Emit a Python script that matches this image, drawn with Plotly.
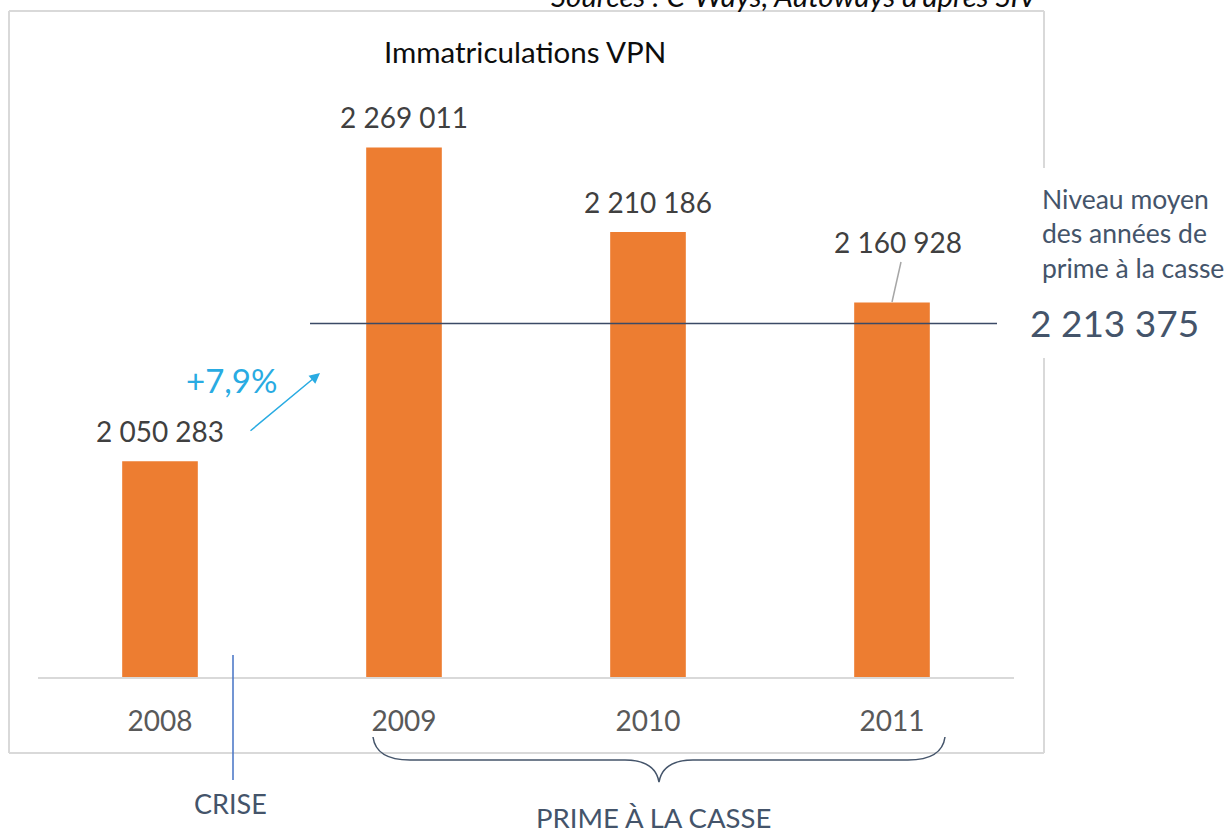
import plotly.graph_objects as go

# ---- data ----
years = ["2008", "2009", "2010", "2011"]
registrations = [2050283, 2269011, 2210186, 2160928]
mean_label = "2 213 375"
mean_line_level = 2146400  # level where the reference draws its average line
growth_label = "+7,9%"
title_text = "Immatriculations VPN"
source_text = "Sources : C-Ways, Autoways d'après SIV"
crisis_label = "CRISE"
prime_label = "PRIME À LA CASSE"
mean_caption = "Niveau moyen<br>des années de<br>prime à la casse"

# ---- layout geometry (pixels) ----
W, H = 1231, 834
L, R, T, B = 38, 217, 103, 157
PW, PH = W - L - R, H - T - B

def px(x):
    return (x - L) / PW

def py(y):
    return (H - B - y) / PH

FONT = "Lato"
ORANGE = "#ED7D31"
NAVY = "#44546A"
BLUE = "#29ABE2"

fig = go.Figure()
fig.add_trace(go.Bar(x=years, y=registrations, marker=dict(color=ORANGE, line=dict(width=0)),
                     hoverinfo="skip"))

label_shift = [11, 11, 11, 42]
label_xshift = [0, 0, 0, 6]
annotations = []
for i, (v, s, xs) in enumerate(zip(registrations, label_shift, label_xshift)):
    # category index i on the x axis
    annotations.append(dict(x=i, y=v, xref="x", yref="y", text=f"{v:,}".replace(",", " "),
                            showarrow=False, xanchor="center", yanchor="bottom", yshift=s,
                            xshift=xs, font=dict(family=FONT, size=28, color="#404040")))


def note(x, y, text, size, color, xanchor="center", yanchor="middle", align="center"):
    return dict(x=px(x), y=py(y), xref="paper", yref="paper", text=text, showarrow=False,
                xanchor=xanchor, yanchor=yanchor, align=align,
                font=dict(family=FONT, size=size, color=color))


annotations += [
    note(525, 52, title_text, 29.5, "#0D0D0D"),
    note(1040, 15, "<i>" + source_text + "</i>", 29.5, "#0D0D0D", xanchor="right", yanchor="bottom"),
    note(231, 380, growth_label, 33, BLUE),
    dict(x=px(320), y=py(373), xref="paper", yref="paper", text="", showarrow=True,
         ax=249 - 320, ay=432 - 373, arrowhead=2, arrowsize=1.4, arrowwidth=1.5, arrowcolor=BLUE),
    note(230, 803, crisis_label, 27, NAVY),
    note(653, 817, prime_label, 27.5, NAVY),
    note(1040, 233, mean_caption, 26.5, NAVY, xanchor="left", align="left"),
    note(1114, 322, mean_label, 37, NAVY),
]

BORDER = "#D9D9D9"
shapes = [
    dict(type="line", xref="paper", yref="paper", x0=px(9), x1=px(1044), y0=py(11), y1=py(11),
         line=dict(color=BORDER, width=2)),
    dict(type="line", xref="paper", yref="paper", x0=px(9), x1=px(9), y0=py(11), y1=py(753),
         line=dict(color=BORDER, width=2)),
    dict(type="line", xref="paper", yref="paper", x0=px(9), x1=px(1044), y0=py(753), y1=py(753),
         line=dict(color=BORDER, width=2)),
    dict(type="line", xref="paper", yref="paper", x0=px(1044), x1=px(1044), y0=py(11), y1=py(168),
         line=dict(color=BORDER, width=2)),
    dict(type="line", xref="paper", yref="paper", x0=px(1044), x1=px(1044), y0=py(358), y1=py(753),
         line=dict(color=BORDER, width=2)),
    # mean level line
    dict(type="line", xref="paper", yref="y", x0=px(310), x1=px(997), y0=mean_line_level,
         y1=mean_line_level, line=dict(color="#3B4A66", width=1.5)),
    # leader line for 2011 label
    dict(type="line", xref="paper", yref="paper", x0=px(901), x1=px(892), y0=py(262), y1=py(302),
         line=dict(color="#A6A6A6", width=1.5)),
    # crisis marker
    dict(type="line", xref="paper", yref="paper", x0=px(233), x1=px(233), y0=py(655), y1=py(780),
         line=dict(color="#4472C4", width=1.5)),
]

# curly brace
pts = lambda x, y: f"{px(x):.5f},{py(y):.5f}"
brace = ("M " + pts(373, 737) + " Q " + pts(376, 760) + " " + pts(410, 760) +
         " L " + pts(625, 760) + " Q " + pts(655, 760) + " " + pts(659, 782) +
         " Q " + pts(663, 760) + " " + pts(693, 760) + " L " + pts(908, 760) +
         " Q " + pts(942, 760) + " " + pts(945, 737))
shapes.append(dict(type="path", xref="paper", yref="paper", path=brace,
                   line=dict(color=NAVY, width=1.5)))

fig.update_layout(
    width=W, height=H,
    margin=dict(l=L, r=R, t=T, b=B, autoexpand=False),
    paper_bgcolor="white", plot_bgcolor="white",
    separators=", ",
    bargap=0.69,
    showlegend=False,
    annotations=annotations,
    shapes=shapes,
    xaxis=dict(type="category", range=[-0.5, len(years) - 0.5], autorange=False,
               showline=True, linecolor=BORDER, linewidth=2, showgrid=False,
               zeroline=False, ticks="", tickfont=dict(family=FONT, size=28, color="#595959"),
               ticklabelstandoff=18, fixedrange=True),
    yaxis=dict(range=[1900000, 2300000], autorange=False, visible=False, showgrid=False,
               zeroline=False, fixedrange=True),
)

fig.write_html("out.html", config={"displayModeBar": False},
               post_script="document.body.style.margin='0';document.body.style.overflow='hidden';")
